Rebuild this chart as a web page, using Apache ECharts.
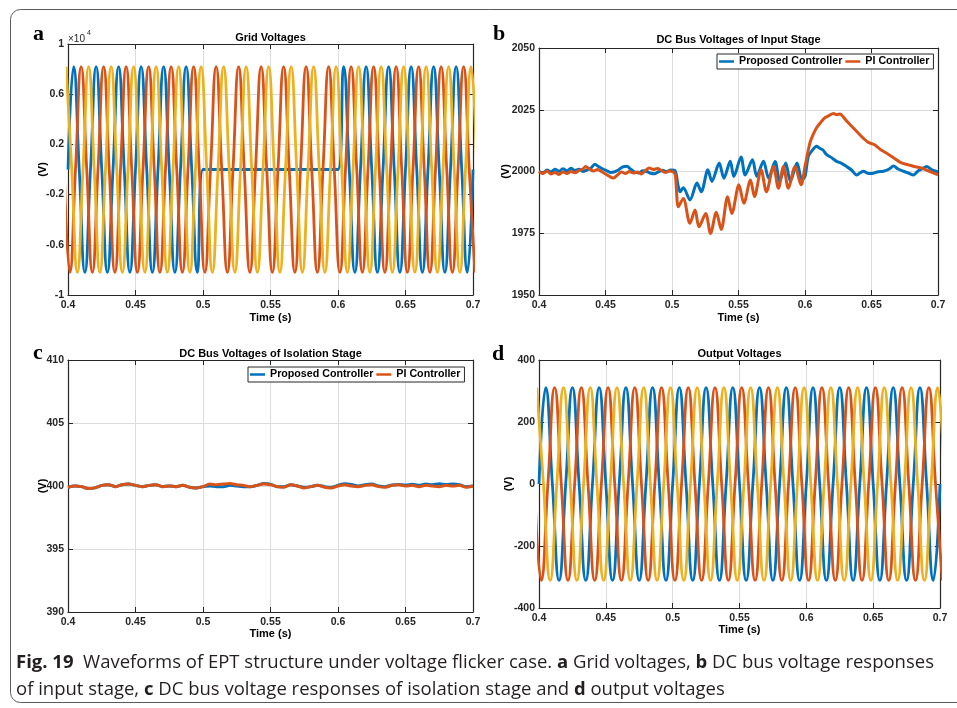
<!DOCTYPE html>
<html>
<head>
<meta charset="utf-8">
<title>Waveforms of EPT structure under voltage flicker case</title>
<script src="https://cdn.jsdelivr.net/npm/echarts@6/dist/echarts.min.js"></script>
<style>
  html, body { margin: 0; padding: 0; background: #fff; }
  #chart { width: 957px; height: 708px; }
</style>
</head>
<body>
<div id="chart"></div>
<script>
// ---------------------------------------------------------------------------
// Data
// ---------------------------------------------------------------------------

// Shared time axis (s)
const timeMin = 0.4;
const timeMax = 0.7;
const timeTick = 0.05;

// (a) Grid voltages, 60 Hz three-phase, amplitude 8200 V.
// Samples taken at every zero crossing and peak (quarter-period spacing).
// Phase A collapses to zero between 0.5 s and 0.6 s (flicker event).
const gridQuarter = 1 / 240;
const gridStartA = 0.4;
const gridStartB = 0.4 - 1 / 360;
const gridStartC = 0.4 - 1 / 720;
const gridPhaseA = [
  0, 8200, 0, -8200, 0, 8200, 0, -8200,
  0, 8200, 0, -8200, 0, 8200, 0, -8200,
  0, 8200, 0, -8200, 0, 8200, 0, -8200,
  0, 0, 0, 0, 0, 0, 0, 0,
  0, 0, 0, 0, 0, 0, 0, 0,
  0, 0, 0, 0, 0, 0, 0, 0,
  0, 8200, 0, -8200, 0, 8200, 0, -8200,
  0, 8200, 0, -8200, 0, 8200, 0, -8200,
  0, 8200, 0, -8200, 0, 8200, 0, -8200,
  0
];
const gridPhaseB = [
  0, -8200, 0, 8200, 0, -8200, 0, 8200,
  0, -8200, 0, 8200, 0, -8200, 0, 8200,
  0, -8200, 0, 8200, 0, -8200, 0, 8200,
  0, -8200, 0, 8200, 0, -8200, 0, 8200,
  0, -8200, 0, 8200, 0, -8200, 0, 8200,
  0, -8200, 0, 8200, 0, -8200, 0, 8200,
  0, -8200, 0, 8200, 0, -8200, 0, 8200,
  0, -8200, 0, 8200, 0, -8200, 0, 8200,
  0, -8200, 0, 8200, 0, -8200, 0, 8200,
  0, -8200
];
const gridPhaseC = [
  8200, 0, -8200, 0, 8200, 0, -8200, 0,
  8200, 0, -8200, 0, 8200, 0, -8200, 0,
  8200, 0, -8200, 0, 8200, 0, -8200, 0,
  8200, 0, -8200, 0, 8200, 0, -8200, 0,
  8200, 0, -8200, 0, 8200, 0, -8200, 0,
  8200, 0, -8200, 0, 8200, 0, -8200, 0,
  8200, 0, -8200, 0, 8200, 0, -8200, 0,
  8200, 0, -8200, 0, 8200, 0, -8200, 0,
  8200, 0, -8200, 0, 8200, 0, -8200, 0,
  8200, 0
];

// (b) DC bus voltage of the input stage (V)
const inputProposedTime = [
  0.400, 0.403, 0.406, 0.409, 0.412, 0.415, 0.418, 0.421, 0.424, 0.427,
  0.430, 0.433, 0.436, 0.439, 0.442, 0.445, 0.448, 0.451, 0.454, 0.457,
  0.460, 0.463, 0.466, 0.469, 0.472, 0.475, 0.478, 0.481, 0.484, 0.487,
  0.490, 0.493, 0.496, 0.499, 0.5023, 0.5045, 0.5061, 0.5085, 0.5135, 0.5188,
  0.5220, 0.5270, 0.5300, 0.5355, 0.5390, 0.5438, 0.5465, 0.5519, 0.5550, 0.5605,
  0.5637, 0.5688, 0.5726, 0.5775, 0.5810, 0.5855, 0.5890, 0.5940, 0.5977, 0.6000,
  0.6025, 0.6055, 0.6087, 0.6110, 0.6135, 0.6163, 0.6200, 0.6238, 0.6275, 0.6313,
  0.6350, 0.6388, 0.6415, 0.6440, 0.6475, 0.6514, 0.6550, 0.6590, 0.6630, 0.6665,
  0.6700, 0.6740, 0.6780, 0.6815, 0.6850, 0.6880, 0.6915, 0.6950, 0.6990, 0.7000
];
const inputProposedVolt = [
  2000.0, 1999.4, 2000.6, 1999.8, 2000.9, 2000.1, 2001.1, 2000.3, 2001.3, 2000.4,
  2000.9, 2000.0, 2000.6, 2001.4, 2002.9, 2001.9, 2001.0, 2000.3, 1999.6, 1999.9,
  2000.7, 2001.9, 2002.1, 2000.9, 1999.8, 1999.4, 2000.3, 2000.0, 1999.3, 1999.1,
  1999.9, 2000.5, 1999.9, 2000.6, 2000.3, 1994.5, 1991.8, 1993.4, 1988.5, 1995.3,
  1991.8, 2000.7, 1996.0, 2003.4, 1997.3, 2004.1, 1998.0, 2005.9, 1998.6, 2004.8,
  1998.0, 2004.1, 1997.3, 2004.0, 1996.0, 2003.4, 1996.0, 2003.4, 1996.6, 1998.0,
  2006.1, 2008.6, 2010.2, 2009.4, 2008.7, 2006.8, 2005.6, 2004.1, 2003.3, 2002.0,
  2000.6, 1998.6, 1999.5, 2000.1, 1999.2, 1999.3, 1999.9, 2000.1, 2000.9, 2002.2,
  2001.0, 2000.1, 1999.3, 1998.6, 2000.2, 2001.0, 2002.0, 2000.8, 2000.0, 1999.8
];
const inputPITime = [
  0.400, 0.403, 0.406, 0.409, 0.412, 0.415, 0.418, 0.421, 0.424, 0.427,
  0.430, 0.433, 0.435, 0.438, 0.441, 0.444, 0.447, 0.450, 0.453, 0.456,
  0.459, 0.462, 0.465, 0.468, 0.471, 0.474, 0.477, 0.480, 0.483, 0.486,
  0.489, 0.492, 0.495, 0.498, 0.501, 0.5025, 0.5048, 0.5085, 0.5135, 0.5173,
  0.5203, 0.5253, 0.5290, 0.5333, 0.5370, 0.5418, 0.5450, 0.5503, 0.5540, 0.5590,
  0.5620, 0.5670, 0.5710, 0.5763, 0.5800, 0.5838, 0.5875, 0.5925, 0.5970, 0.6000,
  0.6037, 0.6060, 0.6087, 0.6120, 0.6150, 0.6180, 0.6213, 0.6240, 0.6263, 0.6295,
  0.6326, 0.6360, 0.6400, 0.6440, 0.6476, 0.6520, 0.6576, 0.6620, 0.6676, 0.6720,
  0.6777, 0.6830, 0.6877, 0.6930, 0.7000
];
const inputPIVolt = [
  2000.0, 1999.2, 2000.2, 1999.0, 1999.6, 1998.8, 1999.8, 1999.2, 2000.0, 1999.5,
  2000.4, 2001.0, 2002.0, 2001.0, 2000.2, 2000.8, 2000.0, 1999.0, 1998.0, 1997.4,
  1998.6, 1999.8, 1999.2, 2000.0, 1999.4, 1999.8, 1999.0, 2000.4, 2001.4, 2000.8,
  2001.2, 2000.4, 1999.6, 2000.2, 1999.8, 1998.6, 1985.7, 1989.1, 1979.0, 1984.4,
  1977.6, 1983.0, 1974.9, 1983.5, 1976.5, 1989.8, 1983.0, 1994.6, 1987.1, 1996.6,
  1989.8, 2000.7, 1991.8, 2002.0, 1993.2, 2002.0, 1993.2, 2002.0, 1994.6, 2002.0,
  2011.6, 2014.8, 2017.7, 2020.0, 2021.8, 2022.6, 2023.5, 2023.0, 2023.3, 2021.6,
  2019.7, 2017.8, 2015.6, 2013.4, 2011.8, 2010.9, 2008.6, 2007.2, 2005.2, 2003.6,
  2002.7, 2001.9, 2001.4, 2000.2, 1998.6
];

// (c) DC bus voltage of the isolation stage (V)
const isolationTime = [
  0.400, 0.405, 0.410, 0.415, 0.420, 0.425, 0.430, 0.435, 0.440, 0.445,
  0.450, 0.455, 0.460, 0.465, 0.470, 0.475, 0.480, 0.485, 0.490, 0.495,
  0.500, 0.505, 0.510, 0.515, 0.520, 0.525, 0.530, 0.535, 0.540, 0.545,
  0.550, 0.555, 0.560, 0.565, 0.570, 0.575, 0.580, 0.585, 0.590, 0.595,
  0.600, 0.605, 0.610, 0.615, 0.620, 0.625, 0.630, 0.635, 0.640, 0.645,
  0.650, 0.655, 0.660, 0.665, 0.670, 0.675, 0.680, 0.685, 0.690, 0.695,
  0.700
];
const isolationProposed = [
  399.90, 400.00, 399.95, 399.80, 399.85, 400.05, 400.10, 399.95, 400.10, 400.15,
  400.05, 399.95, 400.05, 400.10, 399.95, 400.00, 399.95, 400.05, 399.90, 399.85,
  399.95, 400.00, 399.95, 399.95, 400.05, 400.00, 399.95, 399.95, 400.05, 400.20,
  400.15, 399.95, 399.95, 400.10, 400.00, 399.90, 399.95, 400.05, 399.95, 399.90,
  400.05, 400.18, 400.12, 400.00, 400.10, 400.15, 400.00, 399.95, 400.08, 400.12,
  400.08, 400.14, 400.05, 400.15, 400.10, 400.18, 400.12, 400.16, 400.10, 399.95,
  400.00
];
const isolationPI = [
  399.90, 400.00, 399.95, 399.80, 399.85, 400.05, 400.10, 399.95, 400.10, 400.15,
  400.05, 399.95, 400.05, 400.10, 399.95, 400.00, 399.95, 400.05, 399.90, 399.85,
  399.95, 400.15, 400.10, 400.15, 400.20, 400.10, 400.05, 399.95, 400.05, 400.15,
  400.10, 399.95, 399.90, 400.10, 400.00, 399.85, 399.95, 400.05, 399.90, 399.85,
  400.00, 400.10, 400.00, 399.95, 400.05, 400.10, 399.95, 399.90, 400.05, 400.10,
  400.00, 400.05, 399.95, 400.05, 400.00, 399.95, 400.05, 400.00, 400.05, 399.90,
  400.00
];

// (d) Output voltages, 50 Hz three-phase, amplitude 311 V.
// Samples at every zero crossing and peak (quarter-period spacing).
const outQuarter = 1 / 200;
const outStartA = 0.4;
const outStartB = 0.4 - 1 / 300;
const outStartC = 0.4 - 1 / 600;
const outPhaseA = [
  0, 311, 0, -311, 0, 311, 0, -311,
  0, 311, 0, -311, 0, 311, 0, -311,
  0, 311, 0, -311, 0, 311, 0, -311,
  0, 311, 0, -311, 0, 311, 0, -311,
  0, 311, 0, -311, 0, 311, 0, -311,
  0, 311, 0, -311, 0, 311, 0, -311,
  0, 311, 0, -311, 0, 311, 0, -311,
  0, 311, 0, -311,
  0
];
const outPhaseB = [
  0, -311, 0, 311, 0, -311, 0, 311,
  0, -311, 0, 311, 0, -311, 0, 311,
  0, -311, 0, 311, 0, -311, 0, 311,
  0, -311, 0, 311, 0, -311, 0, 311,
  0, -311, 0, 311, 0, -311, 0, 311,
  0, -311, 0, 311, 0, -311, 0, 311,
  0, -311, 0, 311, 0, -311, 0, 311,
  0, -311, 0, 311,
  0, -311
];
const outPhaseC = [
  311, 0, -311, 0, 311, 0, -311, 0,
  311, 0, -311, 0, 311, 0, -311, 0,
  311, 0, -311, 0, 311, 0, -311, 0,
  311, 0, -311, 0, 311, 0, -311, 0,
  311, 0, -311, 0, 311, 0, -311, 0,
  311, 0, -311, 0, 311, 0, -311, 0,
  311, 0, -311, 0, 311, 0, -311, 0,
  311, 0, -311, 0,
  311, 0
];

const legendNames = ['Proposed Controller', 'PI Controller'];
const panelTitles = [
  'Grid Voltages',
  'DC Bus Voltages of Input Stage',
  'DC Bus Voltages of Isolation Stage',
  'Output Voltages'
];
const panelLetters = ['a', 'b', 'c', 'd'];
// caption pieces: [text, isBold]
const captionLine1 = [['Fig. 19', true], ['  Waveforms of EPT structure under voltage flicker case. ', false], ['a', true],
                      [' Grid voltages, ', false], ['b', true], [' DC bus voltage responses', false]];
const captionLine2 = [['of input stage, ', false], ['c', true], [' DC bus voltage responses of isolation stage and ', false],
                      ['d', true], [' output voltages', false]];

// ---------------------------------------------------------------------------
// Styling helpers
// ---------------------------------------------------------------------------
const FONT = '"Liberation Sans", Arial, Helvetica, sans-serif';
const CAPTION_FONT = '"Open Sans", "Noto Sans", sans-serif';
const CAPTION_SIZE = 18.5;
const AXIS = '#262626';
const GRIDLINE = '#dcdcdc';
const BLUE = '#0072BD';
const RED = '#D95319';
const YELLOW = '#EDB120';

function sampled(start, step, values) {
  return values.map((v, i) => [start + i * step, v]);
}
function paired(times, values) {
  return values.map((v, i) => [times[i], v]);
}

const timeLabel = v => String(Math.round(v * 100) / 100);

function axesX(gi, nameGap) {
  return [{
    gridIndex: gi, type: 'value', min: timeMin, max: timeMax, interval: timeTick, position: 'bottom',
    axisLine: { show: true, onZero: false, lineStyle: { color: AXIS, width: 1.2 } },
    axisTick: { show: true, inside: true, length: 5, lineStyle: { color: AXIS, width: 1 } },
    axisLabel: { show: true, margin: 5, fontFamily: FONT, fontWeight: 'bold', fontSize: 10.5, color: AXIS, formatter: timeLabel },
    splitLine: { show: true, lineStyle: { color: GRIDLINE, width: 1 } },
    name: 'Time (s)', nameLocation: 'middle', nameGap: nameGap, nameMoveOverlap: false,
    nameTextStyle: { fontFamily: FONT, fontWeight: 'bold', fontSize: 11, color: '#000' }
  }, {
    gridIndex: gi, type: 'value', min: timeMin, max: timeMax, interval: timeTick, position: 'top',
    axisLine: { show: true, onZero: false, lineStyle: { color: AXIS, width: 1.2 } },
    axisTick: { show: true, inside: true, length: 5, lineStyle: { color: AXIS, width: 1 } },
    axisLabel: { show: false }, splitLine: { show: false }
  }];
}

function axesY(gi, min, max, interval, nameGap, formatter) {
  return [{
    gridIndex: gi, type: 'value', min: min, max: max, interval: interval, position: 'left',
    axisLine: { show: true, onZero: false, lineStyle: { color: AXIS, width: 1.2 } },
    axisTick: { show: true, inside: true, length: 5, lineStyle: { color: AXIS, width: 1 } },
    axisLabel: { show: true, margin: 4, fontFamily: FONT, fontWeight: 'bold', fontSize: 10.5, color: AXIS, formatter: formatter },
    splitLine: { show: true, lineStyle: { color: GRIDLINE, width: 1 } },
    name: '(V)', nameLocation: 'middle', nameGap: nameGap, nameRotate: 90, nameMoveOverlap: false,
    nameTextStyle: { fontFamily: FONT, fontWeight: 'bold', fontSize: 11, color: '#000' }
  }, {
    gridIndex: gi, type: 'value', min: min, max: max, interval: interval, position: 'right',
    axisLine: { show: true, onZero: false, lineStyle: { color: AXIS, width: 1.2 } },
    axisTick: { show: true, inside: true, length: 5, lineStyle: { color: AXIS, width: 1 } },
    axisLabel: { show: false }, splitLine: { show: false }
  }];
}

function lineSeries(name, gi, color, data, width, smooth) {
  return {
    name: name, type: 'line', xAxisIndex: gi * 2, yAxisIndex: gi * 2,
    data: data, symbol: 'none', showSymbol: false, smooth: smooth, clip: true,
    lineStyle: { color: color, width: width }, itemStyle: { color: color },
    emphasis: { disabled: true }, silent: true
  };
}

function legendAt(left, top) {
  return {
    data: legendNames, left: left, top: top, orient: 'horizontal',
    icon: 'rect', itemWidth: 15, itemHeight: 2.5, itemGap: 3, itemTextGap: 2,
    padding: [2, 4, 2, 2], borderColor: AXIS, borderWidth: 1, borderRadius: 0,
    backgroundColor: '#fff', selectedMode: false,
    textStyle: { fontFamily: FONT, fontWeight: 'bold', fontSize: 10.7, color: '#000' }
  };
}

function richCaption(parts) {
  return parts.map(p => '{' + (p[1] ? 'b' : 'n') + '|' + p[0] + '}').join('');
}

const captionRich = {
  b: { fontFamily: CAPTION_FONT, fontSize: CAPTION_SIZE, fontWeight: 'bold', fill: '#231f20' },
  n: { fontFamily: CAPTION_FONT, fontSize: CAPTION_SIZE, fontWeight: 'normal', fill: '#231f20' }
};

function textEl(x, y, text, font, align, vAlign, fill) {
  return {
    type: 'text', x: x, y: y, silent: true,
    style: { text: text, font: font, fill: fill || '#000', textAlign: align, align: align, textVerticalAlign: vAlign, verticalAlign: vAlign }
  };
}

function captionEl(y, parts) {
  return {
    type: 'text', x: 16, y: y, silent: true,
    style: { text: richCaption(parts), rich: captionRich, font: CAPTION_SIZE + 'px ' + CAPTION_FONT, fill: '#231f20',
             textVerticalAlign: 'middle', verticalAlign: 'middle' }
  };
}

// ---------------------------------------------------------------------------
// Chart
// ---------------------------------------------------------------------------
const grids = [
  { left: 68, top: 44, width: 405, height: 251 },
  { left: 539, top: 48, width: 399, height: 247 },
  { left: 68, top: 360, width: 405, height: 252 },
  { left: 539, top: 360, width: 401, height: 248 }
];

const titleFont = 'bold 11px ' + FONT;
const letterFont = 'bold 22px "Liberation Serif", "Times New Roman", serif';

const option = {
  animation: false,
  backgroundColor: '#fff',
  grid: grids.map(g => Object.assign({ containLabel: false, outerBoundsMode: 'none', show: false }, g)),
  xAxis: [].concat(axesX(0, 17), axesX(1, 17), axesX(2, 16), axesX(3, 16)),
  yAxis: [].concat(
    axesY(0, -10000, 10000, 4000, 20, v => String(v / 10000)),
    axesY(1, 1950, 2050, 25, 28, v => String(v)),
    axesY(2, 390, 410, 5, 20, v => String(v)),
    axesY(3, -400, 400, 200, 25, v => String(v))
  ),
  legend: [legendAt(717, 54), legendAt(248, 367)],
  series: [
    lineSeries('Phase A', 0, BLUE, sampled(gridStartA, gridQuarter, gridPhaseA), 2.8, 0.5),
    lineSeries('Phase B', 0, RED, sampled(gridStartB, gridQuarter, gridPhaseB), 2.8, 0.5),
    lineSeries('Phase C', 0, YELLOW, sampled(gridStartC, gridQuarter, gridPhaseC), 2.8, 0.5),

    lineSeries('Proposed Controller', 1, BLUE, paired(inputProposedTime, inputProposedVolt), 3, 0.3),
    lineSeries('PI Controller', 1, RED, paired(inputPITime, inputPIVolt), 3, 0.3),

    lineSeries('Proposed Controller', 2, BLUE, paired(isolationTime, isolationProposed), 3, 0.3),
    lineSeries('PI Controller', 2, RED, paired(isolationTime, isolationPI), 3, 0.3),

    lineSeries('Phase A', 3, BLUE, sampled(outStartA, outQuarter, outPhaseA), 2.8, 0.5),
    lineSeries('Phase B', 3, RED, sampled(outStartB, outQuarter, outPhaseB), 2.8, 0.5),
    lineSeries('Phase C', 3, YELLOW, sampled(outStartC, outQuarter, outPhaseC), 2.8, 0.5)
  ],
  graphic: {
    elements: [
      // figure frame
      { type: 'rect', silent: true, shape: { x: 10.5, y: 9.5, width: 990, height: 693, r: 10 },
        style: { fill: 'none', stroke: '#5a5a5a', lineWidth: 1 } },
      // panel titles
      textEl(270.5, 37.5, panelTitles[0], titleFont, 'center', 'middle'),
      textEl(738.5, 40, panelTitles[1], titleFont, 'center', 'middle'),
      textEl(270.5, 354, panelTitles[2], titleFont, 'center', 'middle'),
      textEl(739.5, 354, panelTitles[3], titleFont, 'center', 'middle'),
      // panel letters
      textEl(33, 34.5, panelLetters[0], letterFont, 'left', 'middle'),
      textEl(493, 34.5, panelLetters[1], letterFont, 'left', 'middle'),
      textEl(33, 353.5, panelLetters[2], letterFont, 'left', 'middle'),
      textEl(492, 354.5, panelLetters[3], letterFont, 'left', 'middle'),
      // exponent of the grid-voltage axis
      textEl(68, 39, '\u00d710', '10px ' + FONT, 'left', 'middle', AXIS),
      textEl(87, 33.5, '4', '7px ' + FONT, 'left', 'middle', AXIS),
      // caption
      captionEl(663, captionLine1),
      captionEl(690, captionLine2)
    ]
  }
};

const chart = echarts.init(document.getElementById('chart'), null, { renderer: 'canvas', width: 957, height: 708 });
chart.setOption(option);
</script>
</body>
</html>
